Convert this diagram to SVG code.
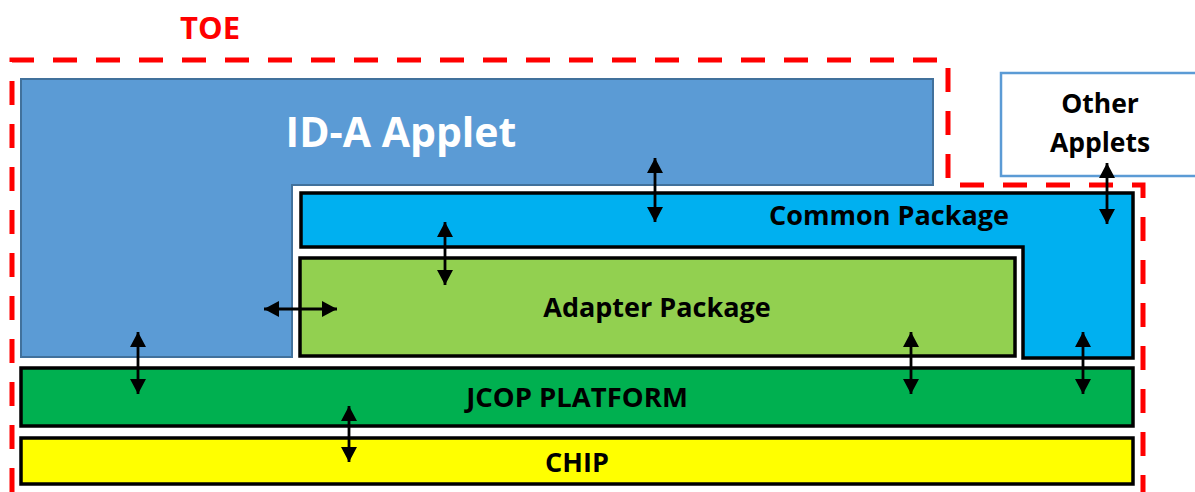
<svg xmlns="http://www.w3.org/2000/svg" width="1195" height="492" viewBox="0 0 1195 492">
<style>
.lbl{font-family:"Open Sans","Liberation Sans",sans-serif;font-weight:bold;text-anchor:middle;fill:#000}
.box{stroke:#000;stroke-width:3.5}
.arr{stroke:#000;stroke-width:2.8;fill:none;marker-start:url(#ah);marker-end:url(#ah)}
</style>
<defs>
<marker id="ah" markerUnits="userSpaceOnUse" markerWidth="17" markerHeight="17" refX="15" refY="8.5" orient="auto-start-reverse" viewBox="0 0 17 17">
<path d="M0,0.5 L15,8.5 L0,16.5 Z" fill="#000"/>
</marker>
</defs>
<rect width="1195" height="492" fill="#fff"/>
<g id="toe">
<path d="M12,492 V60 H948 V185 H1143 V492" fill="none" stroke="#FF0000" stroke-width="5" stroke-dasharray="24 19"/>
<text x="210" y="39" font-family="'Open Sans','Liberation Sans',sans-serif" font-weight="bold" font-size="31" fill="#FF0000" text-anchor="middle">TOE</text>
</g>
<g id="ida-applet">
<polygon points="21,79 933,79 933,185 292,185 292,357 21,357" fill="#5B9BD5" stroke="#41719C" stroke-width="2"/>
<text x="401" y="147" font-family="'Open Sans','Liberation Sans',sans-serif" font-weight="bold" font-size="41" fill="#fff" text-anchor="middle">ID-A Applet</text>
</g>
<g id="other-applets">
<rect x="1001" y="73" width="200" height="103" fill="#fff" stroke="#5B9BD5" stroke-width="2.5"/>
<text class="lbl" x="1100" y="113" font-size="26.5">Other</text>
<text class="lbl" x="1100" y="152" font-size="26.5">Applets</text>
</g>
<g id="common-package">
<polygon class="box" points="301,193 1133,193 1133,358 1023,358 1023,247 301,247" fill="#00B0F0"/>
<text class="lbl" x="889" y="225" font-size="27">Common Package</text>
</g>
<g id="adapter-package">
<rect class="box" x="300" y="258" width="715" height="98" fill="#92D050"/>
<text class="lbl" x="657" y="317" font-size="27">Adapter Package</text>
</g>
<g id="jcop-platform">
<rect class="box" x="21" y="368" width="1112" height="58" fill="#00B050"/>
<text class="lbl" x="577" y="407" font-size="27.5">JCOP PLATFORM</text>
</g>
<g id="chip">
<rect class="box" x="21" y="438" width="1112" height="46" fill="#FFFF00"/>
<text class="lbl" x="577" y="472" font-size="27">CHIP</text>
</g>
<g id="connectors">
<path class="arr" d="M655,158 V222"/>
<path class="arr" d="M445,222 V285"/>
<path class="arr" d="M264,309 H337"/>
<path class="arr" d="M138,332 V394"/>
<path class="arr" d="M349,406 V462"/>
<path class="arr" d="M911,332 V394"/>
<path class="arr" d="M1083,332 V394"/>
<path class="arr" d="M1107,163 V224"/>
</g>
</svg>
